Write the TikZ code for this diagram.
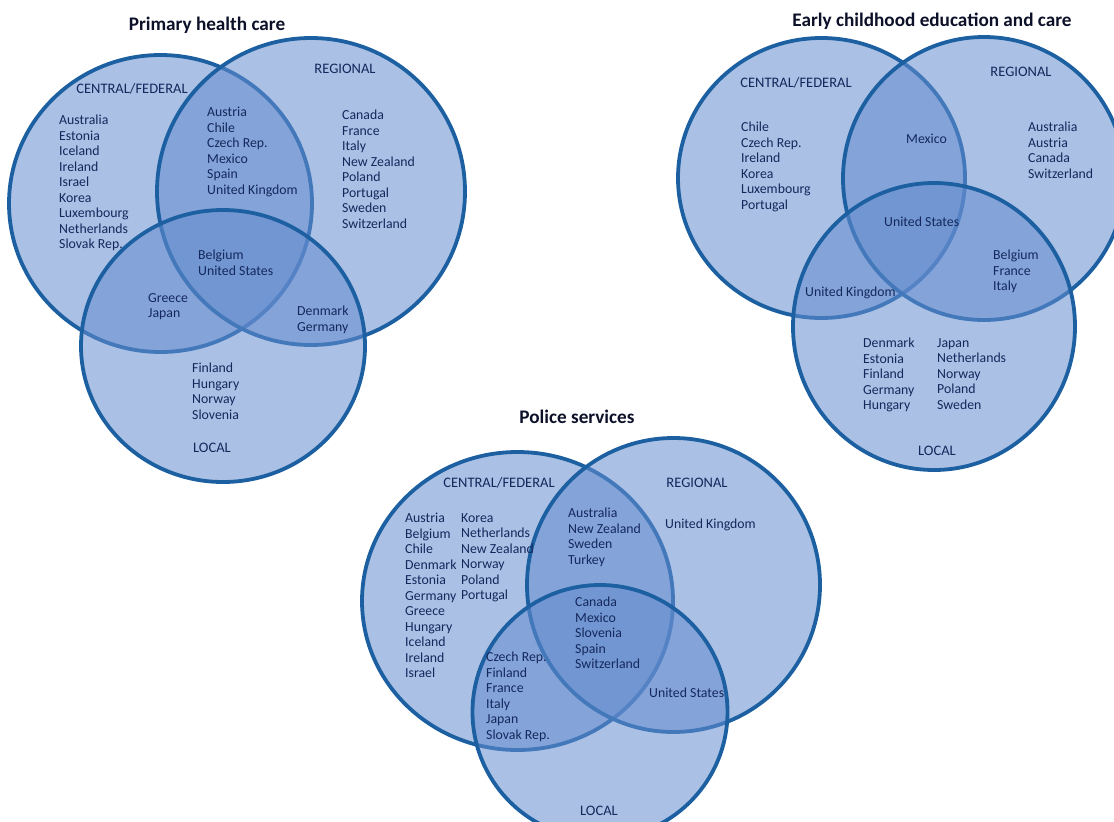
\documentclass[tikz,border=0pt]{standalone}
\usepackage{fontspec}
\setmainfont{Carlito}
\definecolor{ring}{RGB}{28,96,162}
\definecolor{disc}{RGB}{100,140,206}
\definecolor{ink}{RGB}{20,40,92}
\definecolor{titlecol}{RGB}{12,16,40}
\begin{document}
\begin{tikzpicture}[x=1pt,y=-1pt,
  venn/.style={draw=ring,line width=3.8pt,fill=disc,fill opacity=0.55},
  lst/.style={anchor=north west,inner sep=0pt,align=left,text=ink,font=\fontsize{13.8}{15.5}\selectfont},
  lbl/.style={anchor=base,inner sep=0pt,text=ink,font=\fontsize{14.5}{16}\selectfont},
  ttl/.style={anchor=base,inner sep=0pt,text=titlecol,font=\bfseries\fontsize{19.2}{22}\selectfont}]
\useasboundingbox (0,0) rectangle (1114,822);
\begin{scope}
\clip (0,0) rectangle (1114,822);
% Primary health care
\draw[venn] (160.5,203.5) ellipse [x radius=151.5pt, y radius=148.5pt];
\draw[venn] (311,191.5) ellipse [x radius=154pt, y radius=153.5pt];
\draw[venn] (223,346) ellipse [x radius=142pt, y radius=136pt];
% Early childhood
\draw[venn] (821.5,178) ellipse [x radius=143.5pt, y radius=140pt];
\draw[venn] (984,178.5) ellipse [x radius=141pt, y radius=141.5pt];
\draw[venn] (934,326.5) ellipse [x radius=141pt, y radius=143.5pt];
% Police
\draw[venn] (517.5,601) ellipse [x radius=155.5pt, y radius=149pt];
\draw[venn] (673.5,585) ellipse [x radius=146.5pt, y radius=147pt];
\draw[venn] (600,712) ellipse [x radius=127.5pt, y radius=127pt];
\end{scope}

% ---- Primary health care texts
\node[ttl] (t1) at (207,30) {Primary health care};
\node[lbl] (c1) at (132,93) {CENTRAL/FEDERAL};
\node[lbl] (r1) at (345,73) {REGIONAL};
\node[lbl] (l1) at (212,452) {LOCAL};
\node[lst] (c1l) at (59,115) {Australia\\Estonia\\Iceland\\Ireland\\Israel\\Korea\\Luxembourg\\Netherlands\\Slovak Rep.};
\node[lst] (cr1) at (207,107) {Austria\\Chile\\Czech Rep.\\Mexico\\Spain\\United Kingdom};
\node[lst] (r1l) at (342,110) {Canada\\France\\Italy\\New Zealand\\Poland\\Portugal\\Sweden\\Switzerland};
\node[lst] (crl1) at (198,250) {Belgium\\United States};
\node[lst] (cl1) at (148,293) {Greece\\Japan};
\node[lst] (rl1) at (297,306) {Denmark\\Germany};
\node[lst] (l1l) at (192,363) {Finland\\Hungary\\Norway\\Slovenia};

% ---- Early childhood education and care texts
\node[ttl] (t2) at (932,26) {Early childhood education and care};
\node[lbl] (c2) at (796,87) {CENTRAL/FEDERAL};
\node[lbl] (r2) at (1021,76) {REGIONAL};
\node[lbl] (l2) at (937,455) {LOCAL};
\node[lst] (c2l) at (741,122) {Chile\\Czech Rep.\\Ireland\\Korea\\Luxembourg\\Portugal};
\node[lst] (cr2) at (906,134) {Mexico};
\node[lst] (r2l) at (1028,122) {Australia\\Austria\\Canada\\Switzerland};
\node[lst] (crl2) at (884,217) {United States};
\node[lst] (rl2) at (993,250) {Belgium\\France\\Italy};
\node[lst] (cl2) at (805,287) {United Kingdom};
\node[lst] (l2a) at (863,338) {Denmark\\Estonia\\Finland\\Germany\\Hungary};
\node[lst] (l2b) at (937,338) {Japan\\Netherlands\\Norway\\Poland\\Sweden};

% ---- Police services texts
\node[ttl] (t3) at (577,423) {Police services};
\node[lbl] (c3) at (499,487) {CENTRAL/FEDERAL};
\node[lbl] (r3) at (697,487) {REGIONAL};
\node[lbl] (l3) at (599,815) {LOCAL};
\node[lst] (c3a) at (405,513) {Austria\\Belgium\\Chile\\Denmark\\Estonia\\Germany\\Greece\\Hungary\\Iceland\\Ireland\\Israel};
\node[lst] (c3b) at (461,513) {Korea\\Netherlands\\New Zealand\\Norway\\Poland\\Portugal};
\node[lst] (cr3) at (568,508) {Australia\\New Zealand\\Sweden\\Turkey};
\node[lst] (r3l) at (665,519) {United Kingdom};
\node[lst] (crl3) at (575,597) {Canada\\Mexico\\Slovenia\\Spain\\Switzerland};
\node[lst] (cl3) at (486,652) {Czech Rep.\\Finland\\France\\Italy\\Japan\\Slovak Rep.};
\node[lst] (rl3) at (649,688) {United States};
\end{tikzpicture}
\end{document}
